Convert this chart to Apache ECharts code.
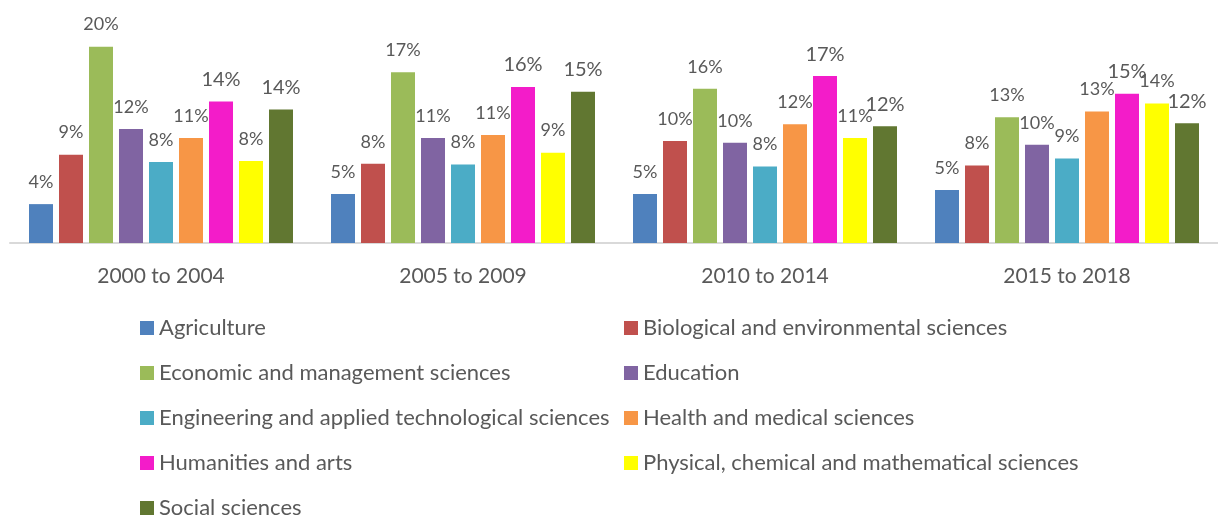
<!DOCTYPE html>
<html>
<head>
<meta charset="utf-8">
<script src="https://cdn.jsdelivr.net/npm/echarts@6/dist/echarts.min.js"></script>
<style>html,body{margin:0;padding:0;background:#fff}#c{width:1218px;height:518px}</style>
</head>
<body>
<div id="c"></div>
<script>
const categories = ['2000 to 2004', '2005 to 2009', '2010 to 2014', '2015 to 2018'];
const agriculture = [3.96, 5.0, 5.0, 5.4];
const biological = [9.0, 8.07, 10.4, 7.9];
const economic = [20.0, 17.4, 15.7, 12.8];
const education = [11.6, 10.7, 10.2, 10.0];
const engineering = [8.25, 8.0, 7.8, 8.6];
const health = [10.7, 11.0, 12.1, 13.4];
const humanities = [14.4, 15.9, 17.0, 15.2];
const physical = [8.35, 9.2, 10.7, 14.2];
const social = [13.6, 15.4, 11.9, 12.2];

const seriesDefs = [
  ['Agriculture', agriculture, '#4F81BD', false],
  ['Biological and environmental sciences', biological, '#C0504D', false],
  ['Economic and management sciences', economic, '#9BBB59', false],
  ['Education', education, '#8064A2', false],
  ['Engineering and applied technological sciences', engineering, '#4BACC6', false],
  ['Health and medical sciences', health, '#F79646', false],
  ['Humanities and arts', humanities, '#F31CC9', true],
  ['Physical, chemical and mathematical sciences', physical, '#FFFF00', false],
  ['Social sciences', social, '#617731', true]
];

const FONT = 'Lato';
const TXT = '#595959';

const legendBase = {
  orient: 'vertical', top: 317, height: 240, itemWidth: 14, itemHeight: 14, itemGap: 23,
  padding: 0, icon: 'rect',
  textStyle: { color: TXT, fontSize: 22, fontFamily: FONT }
};

const chart = echarts.init(document.getElementById('c'));
chart.setOption({
  animation: false,
  textStyle: { fontFamily: FONT },
  grid: { left: 10, right: 0, top: 27, bottom: 275, containLabel: false },
  xAxis: {
    type: 'category',
    data: categories,
    axisLine: { lineStyle: { color: '#D9D9D9', width: 2 } },
    axisTick: { show: false },
    axisLabel: { color: TXT, fontSize: 21, fontFamily: FONT, margin: 23 }
  },
  yAxis: { type: 'value', min: 0, max: 22, show: false, splitLine: { show: false } },
  legend: [
    Object.assign({}, legendBase, {
      left: 140,
      data: ['Agriculture', 'Economic and management sciences', 'Engineering and applied technological sciences', 'Humanities and arts', 'Social sciences']
    }),
    Object.assign({}, legendBase, {
      left: 624,
      data: ['Biological and environmental sciences', 'Education', 'Health and medical sciences', 'Physical, chemical and mathematical sciences']
    })
  ],
  series: seriesDefs.map(([name, data, color, big]) => ({
    name, type: 'bar', data,
    barWidth: 24,
    barGap: '25%',
    itemStyle: { color },
    label: {
      show: true, position: 'top', distance: big ? 12 : 13,
      color: TXT, fontFamily: FONT, fontSize: big ? 20 : 18,
      formatter: p => Math.round(p.value) + '%'
    }
  }))
});
</script>
</body>
</html>
